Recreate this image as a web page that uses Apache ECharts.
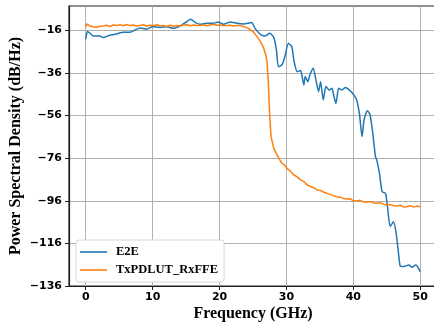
<!DOCTYPE html>
<html>
<head>
<meta charset="utf-8">
<script src="https://cdn.jsdelivr.net/npm/echarts@6/dist/echarts.min.js"></script>
<style>
  html, body { margin: 0; padding: 0; background: #fff; }
  #chart { width: 434px; height: 327px; }
</style>
</head>
<body>
<div id="chart"></div>
<script>
// E2E trace (GHz, dB/Hz)
const e2eFreq = [0, 0.25, 0.65, 1.1, 2.1, 2.6, 3.6, 4.6, 5.6, 6.6, 7.4, 8.1, 9.1, 10, 11.1, 12.1, 13.1, 14.1, 14.9, 15.7,
  16.4, 17.1, 18.1, 19.1, 19.8, 20.6, 21.6, 22.6, 23.6, 24.8, 25.3, 26.1, 26.8, 27.5, 28.1, 28.5, 28.8, 29.3, 29.7,
  30.3, 30.8, 31.1, 31.6, 32.1, 32.3, 32.6, 32.8, 33.2, 33.5, 34.0, 34.4, 34.8, 35.1, 35.5, 35.9, 36.4, 36.8, 37.1,
  37.4, 37.8, 38.3, 38.8, 39.3, 39.8, 40.1, 40.5, 40.9, 41.3, 41.6, 42.1, 42.5, 42.9, 43.3, 43.5, 43.9, 44.3, 44.8,
  45.1, 45.5, 46.0, 46.4, 46.8, 47.0, 47.4, 47.8, 48.3, 48.8, 49.3, 49.6, 50.0];
const e2ePsd = [-20.2, -16.6, -17.4, -18.7, -18.7, -19.4, -18.3, -17.7, -16.9, -16.9, -15.8, -14.9, -15.5, -14.3, -14.7,
  -14.3, -15.1, -14.0, -12.4, -10.8, -12.4, -13.2, -12.7, -12.7, -12.1, -13.2, -12.1, -12.7, -13.0, -12.4, -15.1,
  -17.9, -18.7, -17.4, -19.3, -25.2, -33.1, -32.3, -29.1, -22.1, -23.7, -29.9, -35.4, -34.9, -37.0, -41.7, -37.7,
  -40.1, -37.0, -33.8, -39.3, -44.8, -40.1, -48.7, -42.4, -44.0, -43.2, -47.1, -50.3, -43.2, -44.0, -42.8, -43.7,
  -45.3, -46.4, -48.7, -55.0, -65.9, -58.1, -53.7, -55.7, -64.3, -75.3, -76.9, -83.1, -91.7, -92.5, -98.8, -108.1,
  -105.8, -111.3, -122.2, -126.6, -126.9, -126.6, -126.1, -127.2, -126.1, -126.9, -129.3];

// TxPDLUT_RxFFE trace
const txFreq = [0, 0.15, 0.65, 1.1, 1.6, 2.1, 2.6, 3.1, 3.6, 4.1, 4.6, 5.1, 5.6, 6.1, 6.6, 7.1, 7.6, 8.1, 8.6, 9.1,
  9.6, 10.1, 10.6, 11.1, 11.6, 12.1, 12.6, 13.1, 13.6, 14.1, 14.6, 15.1, 15.6, 16.1, 16.6, 17.1, 17.6, 18.1, 18.6,
  19.1, 19.6, 20.1, 20.6, 21.1, 21.6, 22.1, 22.6, 23.1, 23.6, 24.3, 25.1, 25.8, 26.2, 26.6, 26.9, 27.1, 27.3, 27.5,
  27.7, 28.1, 28.6, 29.0, 29.3, 29.7, 30.1, 30.6, 31.1, 31.6, 32.1, 32.6, 33.1, 33.6, 34.1, 34.6, 35.1, 35.6, 36.0,
  36.5, 37.0, 37.5, 38.0, 38.5, 39.0, 39.5, 40.0, 40.5, 41.0, 41.5, 42.0, 42.5, 43.0, 43.5, 44.0, 44.5, 45.0, 45.5,
  46.0, 46.5, 47.0, 47.5, 48.0, 48.5, 49.0, 49.5, 50.0];
const txPsd = [-14.6, -13.0, -14.0, -14.3, -14.6, -14.1, -14.0, -13.6, -14.2, -13.5, -13.8, -13.4, -13.9, -13.3, -13.8,
  -13.5, -14.0, -13.7, -13.4, -14.0, -13.6, -13.8, -13.4, -13.9, -13.7, -14.2, -13.6, -14.1, -13.8, -14.0, -13.5,
  -13.3, -13.9, -13.5, -13.8, -13.7, -13.4, -13.9, -13.5, -13.2, -13.6, -13.5, -13.9, -13.8, -13.6, -14.0, -13.7,
  -13.8, -14.2, -15.1, -16.9, -19.8, -21.8, -24.4, -27.5, -30.7, -40.9, -56.5, -65.9, -71.4, -74.5, -76.8, -78.4,
  -79.2, -80.8, -82.1, -83.9, -84.8, -86.2, -87.0, -88.6, -89.3, -89.9, -90.9, -91.2, -92.0, -92.5, -93.0, -93.6,
  -94.1, -94.3, -94.9, -95.2, -95.0, -96.1, -96.1, -95.8, -96.5, -96.7, -96.4, -97.0, -97.2, -96.9, -97.6, -98.0,
  -97.8, -98.3, -98.4, -98.1, -98.9, -98.8, -98.3, -99.0, -98.5, -98.8];

const yTickMin = -136;
const yTickStep = 20;
const yTop = -4.6;
const xMin = -2.5;
const xMax = 52.5;

const chart = echarts.init(document.getElementById('chart'), null, { renderer: 'canvas' });

const tickFont = { fontFamily: 'DejaVu Sans', fontWeight: 'bold', fontSize: 11, color: '#000' };
const titleFont = { fontFamily: 'Liberation Serif', fontWeight: 'bold', fontSize: 16, color: '#000' };

chart.setOption({
  animation: false,
  backgroundColor: '#fff',
  grid: {
    left: 69, top: 6, right: -3, bottom: 41,
    containLabel: false,
    outerBoundsMode: 'none',
    show: true, borderColor: '#222', borderWidth: 1.2
  },
  legend: {
    orient: 'vertical',
    left: 76, top: 240,
    padding: [5, 6, 5, 4],
    itemGap: 4,
    itemWidth: 27,
    itemHeight: 1.6,
    icon: 'rect',
    backgroundColor: '#fff',
    borderColor: '#d6d6d6',
    borderWidth: 1,
    borderRadius: 3,
    textStyle: { fontFamily: 'Liberation Serif', fontWeight: 'bold', fontSize: 12.5, color: '#000', lineHeight: 14, padding: [0, 0, 0, 4] },
    data: ['E2E', 'TxPDLUT_RxFFE']
  },
  xAxis: {
    type: 'value',
    min: xMin, max: xMax,
    name: 'Frequency (GHz)',
    nameLocation: 'middle',
    nameGap: 20,
    nameMoveOverlap: false,
    nameTextStyle: titleFont,
    axisLine: { show: true, onZero: false, lineStyle: { color: '#222', width: 1.2 } },
    axisTick: { show: true, inside: false, length: 4, lineStyle: { color: '#222' } },
    axisLabel: { ...tickFont, margin: 6, showMinLabel: false, showMaxLabel: false },
    splitLine: { show: true, showMinLine: false, showMaxLine: false, lineStyle: { color: '#b0b0b0', width: 1 } }
  },
  yAxis: {
    type: 'value',
    min: yTickMin, max: yTop, interval: yTickStep,
    name: 'Power Spectral Density (dB/Hz)',
    nameLocation: 'middle',
    nameGap: 45,
    nameMoveOverlap: false,
    nameTextStyle: titleFont,
    axisLine: { show: true, onZero: false, lineStyle: { color: '#222', width: 1.2 } },
    axisTick: { show: true, inside: false, length: 4, lineStyle: { color: '#222' } },
    axisLabel: {
      ...tickFont, margin: 7, showMaxLabel: false,
      formatter: v => String(v).replace('-', '\u2212')
    },
    splitLine: { show: true, showMinLine: false, showMaxLine: false, lineStyle: { color: '#b0b0b0', width: 1 } }
  },
  series: [
    {
      name: 'E2E', type: 'line', symbol: 'none', smooth: 0.2,
      lineStyle: { color: '#1f77b4', width: 1.5 }, itemStyle: { color: '#1f77b4' },
      data: e2eFreq.map((f, i) => [f, e2ePsd[i]])
    },
    {
      name: 'TxPDLUT_RxFFE', type: 'line', symbol: 'none',
      lineStyle: { color: '#ff7f0e', width: 1.5 }, itemStyle: { color: '#ff7f0e' },
      data: txFreq.map((f, i) => [f, txPsd[i]])
    }
  ]
});
</script>
</body>
</html>
